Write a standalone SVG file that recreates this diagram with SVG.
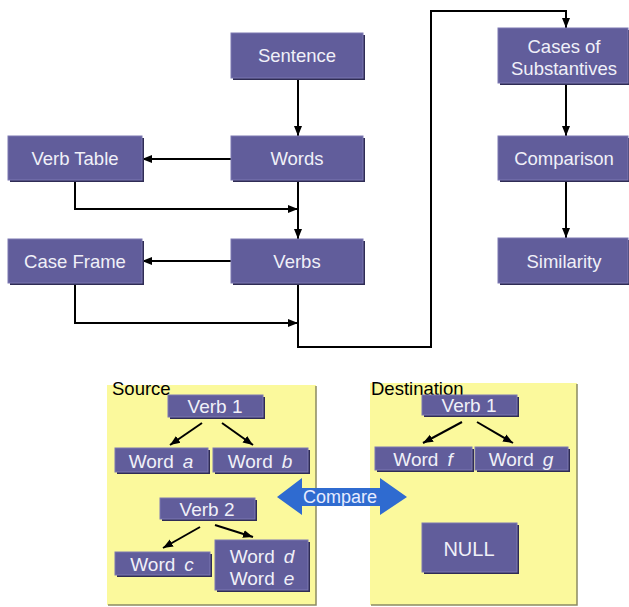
<svg xmlns="http://www.w3.org/2000/svg" width="629" height="607" viewBox="0 0 629 607">
<defs>
<marker id="ah" markerUnits="userSpaceOnUse" markerWidth="10" markerHeight="10" viewBox="0 0 10 10" refX="10" refY="5" orient="auto">
<path d="M0,1 L10,5 L0,9 Z" fill="#000"/>
</marker>
</defs>
<style>
.bx{fill:#615d9b;stroke:#7c78b2;stroke-width:1}
.sh{fill:#2f2c55}
.t{font-family:"Liberation Sans",Arial,sans-serif;font-size:18.5px;fill:#f0f0f8;text-anchor:middle}
.tb{font-family:"Liberation Sans",Arial,sans-serif;font-size:19px;fill:#f0f0f8;text-anchor:middle}
.lbl{font-family:"Liberation Sans",Arial,sans-serif;font-size:18.5px;fill:#000}
.c{fill:none;stroke:#000;stroke-width:2;marker-end:url(#ah)}
.pn{fill:#fbf99c}
.ps{fill:none;stroke:#8c8a62;stroke-width:1.5}
i,.it{font-style:italic}
</style>

<g id="panels">
<g id="source-panel">
<rect class="pn" x="107" y="385" width="209" height="220"/>
<path class="ps" d="M316,386 V605 H108"/>
<text class="lbl" x="112" y="395">Source</text>
</g>
<g id="destination-panel">
<rect class="pn" x="370" y="383" width="207" height="222"/>
<path class="ps" d="M577,384 V605 H371"/>
<text class="lbl" x="371" y="395">Destination</text>
</g>
</g>

<g id="connectors">
<path class="c" d="M298,78 V136"/>
<path class="c" d="M231,159 H142"/>
<path class="c" d="M75,180 V209 H298"/>
<path class="c" d="M298,180 V239"/>
<path class="c" d="M231,261 H142"/>
<path class="c" d="M75,283 V323 H298"/>
<path class="c" d="M298,283 V347 H431 V11 H566 V28"/>
<path class="c" d="M566,83 V136"/>
<path class="c" d="M566,180 V238"/>
<path class="c" d="M202,423 L170,445"/>
<path class="c" d="M222,423 L253,445"/>
<path class="c" d="M200,527 L163,548"/>
<path class="c" d="M215,525 L253,537"/>
<path class="c" d="M462,422 L423,443"/>
<path class="c" d="M477,422 L513,443"/>
</g>

<g id="sentence">
<rect class="sh" x="233" y="35" width="132" height="45"/>
<rect class="bx" x="231" y="33" width="132" height="45"/>
<text class="t" x="297" y="62">Sentence</text>
</g>
<g id="words">
<rect class="sh" x="233" y="138" width="132" height="44"/>
<rect class="bx" x="231" y="136" width="132" height="44"/>
<text class="t" x="297" y="165">Words</text>
</g>
<g id="verb-table">
<rect class="sh" x="10" y="138" width="134" height="44"/>
<rect class="bx" x="8" y="136" width="134" height="44"/>
<text class="t" x="75" y="165">Verb Table</text>
</g>
<g id="verbs">
<rect class="sh" x="233" y="241" width="132" height="44"/>
<rect class="bx" x="231" y="239" width="132" height="44"/>
<text class="t" x="297" y="268">Verbs</text>
</g>
<g id="case-frame">
<rect class="sh" x="10" y="241" width="134" height="44"/>
<rect class="bx" x="8" y="239" width="134" height="44"/>
<text class="t" x="75" y="268">Case Frame</text>
</g>
<g id="cases-of-substantives">
<rect class="sh" x="500" y="30" width="129" height="55"/>
<rect class="bx" x="498" y="28" width="130" height="55"/>
<text class="t" x="564" y="53">Cases of</text>
<text class="t" x="564" y="75">Substantives</text>
</g>
<g id="comparison">
<rect class="sh" x="500" y="138" width="129" height="44"/>
<rect class="bx" x="498" y="136" width="130" height="44"/>
<text class="t" x="564" y="165">Comparison</text>
</g>
<g id="similarity">
<rect class="sh" x="500" y="240" width="129" height="45"/>
<rect class="bx" x="498" y="238" width="130" height="45"/>
<text class="t" x="564" y="268">Similarity</text>
</g>

<g id="src-verb1">
<rect class="sh" x="170" y="397" width="95" height="22"/>
<rect class="bx" x="168" y="395" width="95" height="22"/>
<text class="tb" x="215" y="413">Verb 1</text>
</g>
<g id="src-word-a">
<rect class="sh" x="117" y="450" width="93" height="24"/>
<rect class="bx" x="115" y="448" width="93" height="24"/>
<text class="tb" x="161" y="468">Word<tspan class="it" dx="9">a</tspan></text>
</g>
<g id="src-word-b">
<rect class="sh" x="215" y="450" width="95" height="24"/>
<rect class="bx" x="213" y="448" width="95" height="24"/>
<text class="tb" x="260" y="468">Word<tspan class="it" dx="9">b</tspan></text>
</g>
<g id="src-verb2">
<rect class="sh" x="162" y="500" width="95" height="21"/>
<rect class="bx" x="160" y="498" width="95" height="21"/>
<text class="tb" x="207" y="516">Verb 2</text>
</g>
<g id="src-word-c">
<rect class="sh" x="117" y="554" width="95" height="23"/>
<rect class="bx" x="115" y="552" width="95" height="23"/>
<text class="tb" x="162" y="571">Word<tspan class="it" dx="9">c</tspan></text>
</g>
<g id="src-word-de">
<rect class="sh" x="217" y="542" width="93" height="50"/>
<rect class="bx" x="215" y="540" width="93" height="50"/>
<text class="tb" x="262" y="563">Word<tspan class="it" dx="9">d</tspan></text>
<text class="tb" x="262" y="585">Word<tspan class="it" dx="9">e</tspan></text>
</g>

<g id="dst-verb1">
<rect class="sh" x="424" y="397" width="95" height="20"/>
<rect class="bx" x="422" y="395" width="95" height="20"/>
<text class="tb" x="469" y="412">Verb 1</text>
</g>
<g id="dst-word-f">
<rect class="sh" x="377" y="449" width="97" height="23"/>
<rect class="bx" x="375" y="447" width="97" height="23"/>
<text class="tb" x="423" y="466">Word<tspan class="it" dx="9">f</tspan></text>
</g>
<g id="dst-word-g">
<rect class="sh" x="477" y="449" width="93" height="23"/>
<rect class="bx" x="475" y="447" width="93" height="23"/>
<text class="tb" x="521" y="466">Word<tspan class="it" dx="9">g</tspan></text>
</g>
<g id="dst-null">
<rect class="sh" x="424" y="525" width="95" height="49"/>
<rect class="bx" x="422" y="523" width="95" height="49"/>
<text class="tb" x="469" y="556" style="font-size:20px">NULL</text>
</g>

<g id="compare">
<polygon points="277,497 302,478 302,488 380,488 380,478 407,497 380,515 380,506 302,506 302,515" fill="#2f6bd0"/>
<text x="340" y="503" style="font-family:'Liberation Sans',Arial,sans-serif;font-size:18px;fill:#e6ecff;text-anchor:middle">Compare</text>
</g>
</svg>
